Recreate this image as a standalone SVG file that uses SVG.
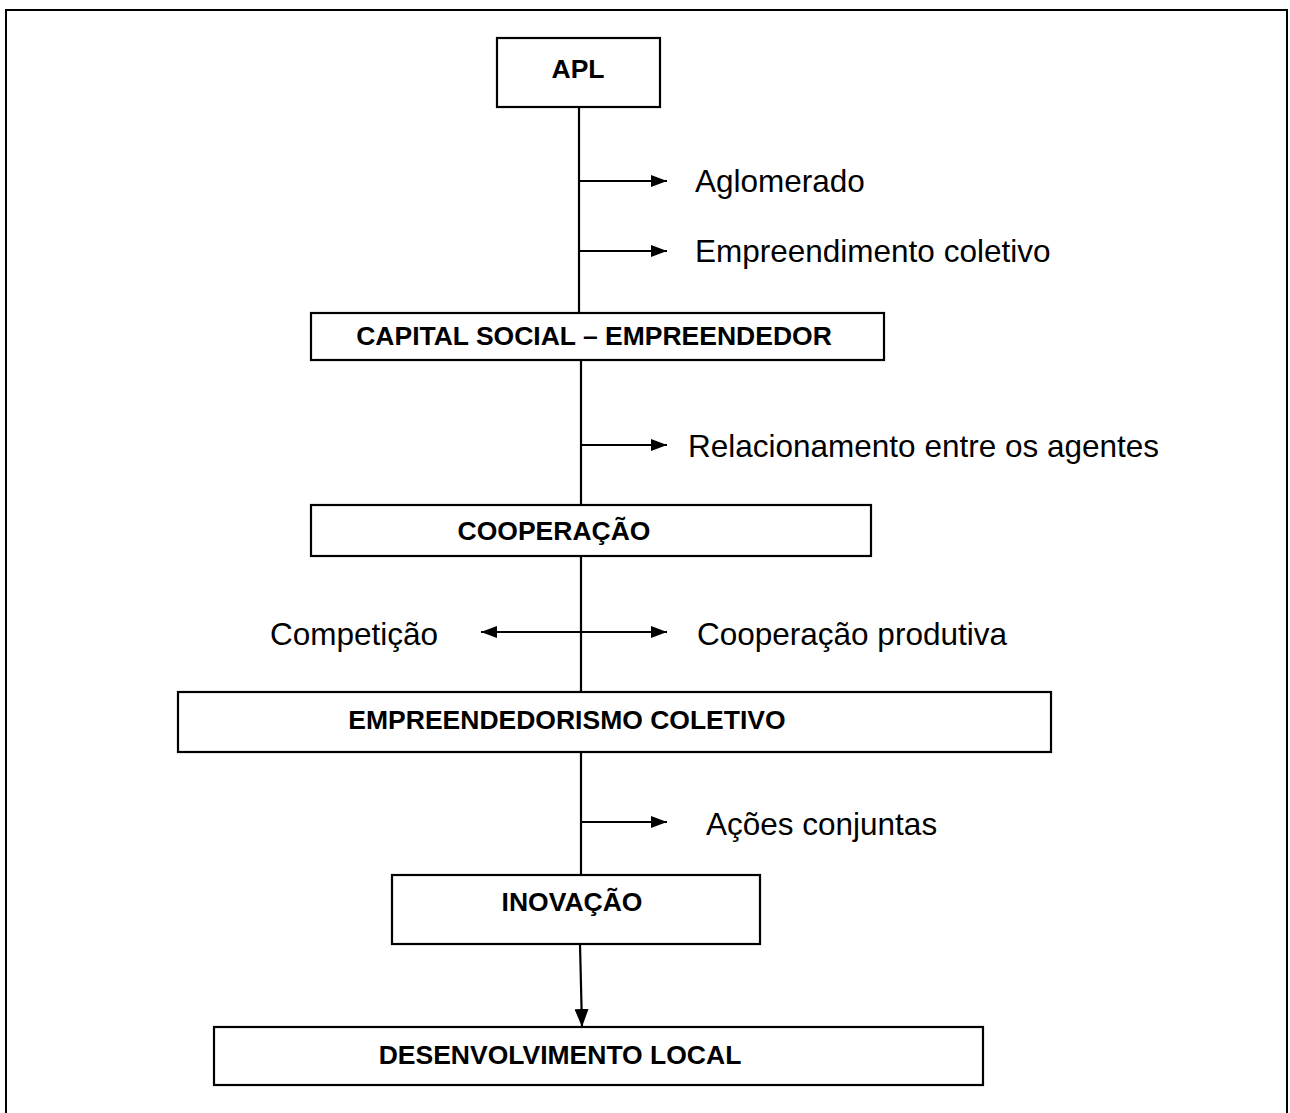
<svg xmlns="http://www.w3.org/2000/svg" width="1290" height="1113" viewBox="0 0 1290 1113">
<defs>
<style>
.box{fill:#fff;stroke:#000;stroke-width:2.2}
.b{font-family:"Liberation Sans",Arial,sans-serif;font-weight:bold;font-size:26.5px;fill:#000}
.t{font-family:"Liberation Sans",Arial,sans-serif;font-size:31.5px;fill:#000}
.ln{stroke:#000;stroke-width:2.2;fill:none}
</style>
<marker id="ah" viewBox="0 0 16 12" refX="16" refY="6" markerWidth="16" markerHeight="12" markerUnits="userSpaceOnUse" orient="auto-start-reverse">
<path d="M0,0 L16,6 L0,12 Z" fill="#000"/>
</marker>
<marker id="ahb" viewBox="0 0 18 14" refX="18" refY="7" markerWidth="18" markerHeight="14" markerUnits="userSpaceOnUse" orient="auto">
<path d="M0,0 L18,7 L0,14 Z" fill="#000"/>
</marker>
</defs>
<rect x="0" y="0" width="1290" height="1113" fill="#fff"/>
<rect x="6" y="10" width="1281" height="1120" fill="none" stroke="#000" stroke-width="2"/>
<g id="connectors">
<line class="ln" x1="579" y1="107" x2="579" y2="313"/>
<line class="ln" x1="579" y1="181" x2="667" y2="181" marker-end="url(#ah)"/>
<line class="ln" x1="579" y1="251" x2="667" y2="251" marker-end="url(#ah)"/>
<line class="ln" x1="581" y1="360" x2="581" y2="505"/>
<line class="ln" x1="581" y1="445" x2="667" y2="445" marker-end="url(#ah)"/>
<line class="ln" x1="581" y1="556" x2="581" y2="692"/>
<line class="ln" x1="481" y1="632" x2="667" y2="632" marker-start="url(#ah)" marker-end="url(#ah)"/>
<line class="ln" x1="581" y1="752" x2="581" y2="875"/>
<line class="ln" x1="581" y1="822" x2="667" y2="822" marker-end="url(#ah)"/>
<line class="ln" x1="580" y1="944" x2="582" y2="1027" stroke-width="3" marker-end="url(#ahb)"/>
</g>
<g id="apl"><rect class="box" x="497" y="38" width="163" height="69"/><text class="b" x="578" y="78" text-anchor="middle">APL</text></g>
<g id="capital"><rect class="box" x="311" y="313" width="573" height="47"/><text class="b" x="594" y="345" text-anchor="middle">CAPITAL SOCIAL – EMPREENDEDOR</text></g>
<g id="cooperacao"><rect class="box" x="311" y="505" width="560" height="51"/><text class="b" x="554" y="540" text-anchor="middle">COOPERAÇÃO</text></g>
<g id="empreendedorismo"><rect class="box" x="178" y="692" width="873" height="60"/><text class="b" x="567" y="729" text-anchor="middle">EMPREENDEDORISMO COLETIVO</text></g>
<g id="inovacao"><rect class="box" x="392" y="875" width="368" height="69"/><text class="b" x="572" y="911" text-anchor="middle">INOVAÇÃO</text></g>
<g id="desenvolvimento"><rect class="box" x="214" y="1027" width="769" height="58"/><text class="b" x="560" y="1064" text-anchor="middle">DESENVOLVIMENTO LOCAL</text></g>
<g id="labels">
<text class="t" x="695" y="192">Aglomerado</text>
<text class="t" x="695" y="262">Empreendimento coletivo</text>
<text class="t" x="688" y="457">Relacionamento entre os agentes</text>
<text class="t" x="270" y="645">Competição</text>
<text class="t" x="697" y="645">Cooperação produtiva</text>
<text class="t" x="706" y="835">Ações conjuntas</text>
</g>
</svg>
